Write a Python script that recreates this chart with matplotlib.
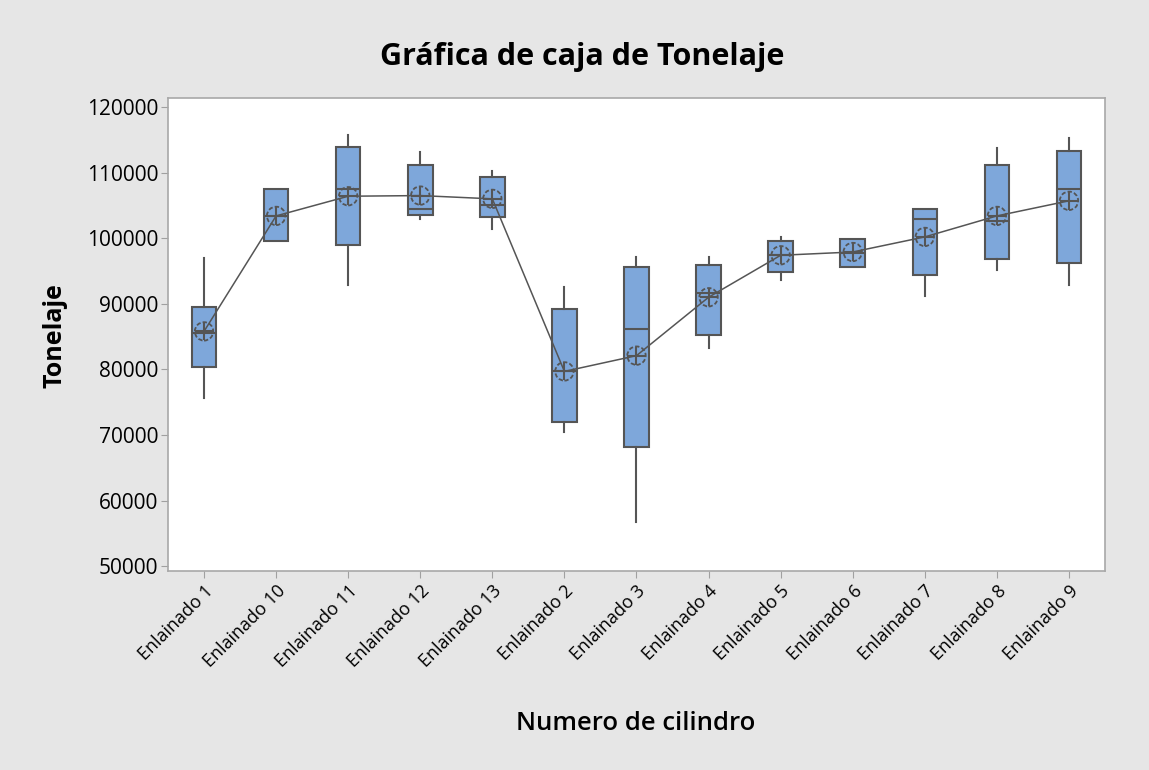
import matplotlib.pyplot as plt
from matplotlib.patches import Circle
from matplotlib.transforms import ScaledTranslation

plt.rcParams['font.family'] = ['Open Sans', 'DejaVu Sans']

cilindros = ['Enlainado 1', 'Enlainado 10', 'Enlainado 11', 'Enlainado 12', 'Enlainado 13',
             'Enlainado 2', 'Enlainado 3', 'Enlainado 4', 'Enlainado 5', 'Enlainado 6',
             'Enlainado 7', 'Enlainado 8', 'Enlainado 9']
minimo = [75600, 99500, 92800, 102900, 101400, 70500, 56800, 83300, 93700, 95600, 91200, 95200, 92800]
q1 = [80300, 99500, 98900, 103500, 103200, 72000, 68100, 85200, 94900, 95600, 94400, 96800, 96200]
mediana = [85500, 103400, 107500, 104400, 105000, 79700, 86100, 91600, 97500, 97800, 102900, 102600, 107500]
q3 = [89500, 107500, 113900, 111100, 109300, 89200, 95600, 95900, 99500, 99900, 104400, 111200, 113300]
maximo = [97000, 107500, 115800, 113100, 110300, 92600, 97200, 97200, 100200, 99900, 104400, 113700, 115200]
media = [85800, 103400, 106400, 106500, 106000, 79700, 82100, 91000, 97400, 97900, 100200, 103400, 105700]

gris = '#555555'

fig = plt.figure(figsize=(11.49, 7.70), dpi=100, facecolor='#e6e6e6')
ax = fig.add_axes([0.1462, 0.2584, 0.8155, 0.6143])
ax.set_facecolor('white')

stats = []
for i in range(len(cilindros)):
    stats.append({'whislo': minimo[i], 'q1': q1[i], 'med': mediana[i],
                  'q3': q3[i], 'whishi': maximo[i], 'label': cilindros[i]})

pos = list(range(len(cilindros)))
ax.bxp(stats, positions=pos, widths=0.34, showfliers=False, showcaps=False,
       patch_artist=True,
       boxprops=dict(facecolor='#7ea7da', edgecolor=gris, linewidth=1.5),
       medianprops=dict(color=gris, linewidth=1.5),
       whiskerprops=dict(color=gris, linewidth=1.5))

# linea de medias con simbolo circulo (punteado) y cruz
ax.plot(pos, media, color=gris, linewidth=1.1, zorder=4)
ax.plot(pos, media, linestyle='none', marker='+', markersize=13,
        markeredgecolor=gris, markeredgewidth=1.5, zorder=5)
for x, y in zip(pos, media):
    tr = fig.dpi_scale_trans + ScaledTranslation(x, y, ax.transData)
    ax.add_patch(Circle((0, 0), 0.092, transform=tr, fill=False, edgecolor=gris,
                        linewidth=1.3, linestyle=(0, (2.4, 1.2)), zorder=5))

ax.set_xlim(-0.5, 12.5)
ax.set_ylim(49270, 121370)
ax.set_yticks(range(50000, 120001, 10000))
ax.set_xticks(pos)
ax.set_xticklabels(cilindros, rotation=45, ha='right', rotation_mode='anchor', fontsize=13)
ax.tick_params(axis='y', labelsize=15, length=5, color='#a0a0a0', pad=2)
ax.tick_params(axis='x', length=5, color='#a0a0a0', pad=3)
for s in ax.spines.values():
    s.set_color('#a8a8a8')
    s.set_linewidth(1.2)

fig.text(0.048, 0.564, 'Tonelaje', rotation=90, ha='center', va='center',
         fontsize=18, fontweight='bold')
fig.text(0.553, 0.061, 'Numero de cilindro', ha='center', va='center',
         fontsize=18.5, fontweight='semibold')
fig.text(0.507, 0.926, 'Gráfica de caja de Tonelaje', ha='center', va='center',
         fontsize=22, fontweight='bold')

fig.savefig('out.png', dpi=100, facecolor=fig.get_facecolor())
